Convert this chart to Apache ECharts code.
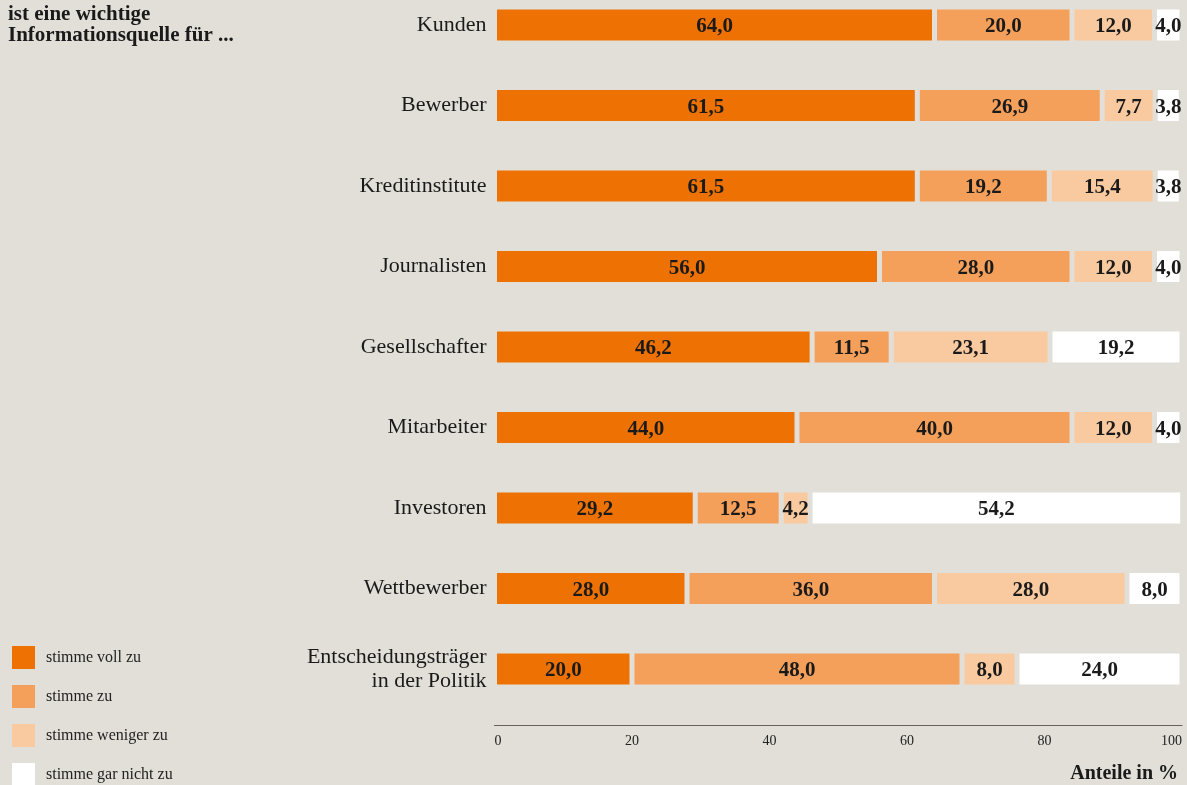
<!DOCTYPE html>
<html>
<head>
<meta charset="utf-8">
<script src="https://cdn.jsdelivr.net/npm/echarts@6/dist/echarts.min.js"></script>
<style>
    html, body { margin: 0; padding: 0; background: #e2dfd8; }
    #chart { width: 1187px; height: 785px; }
</style>
</head>
<body>
<div id="chart"></div>
<script>
    // Kategorien und Werte (Anteile in %)
    const categories = ['Kunden', 'Bewerber', 'Kreditinstitute', 'Journalisten', 'Gesellschafter',
        'Mitarbeiter', 'Investoren', 'Wettbewerber', 'Entscheidungsträger\nin der Politik'];
    const seriesNames = ['stimme voll zu', 'stimme zu', 'stimme weniger zu', 'stimme gar nicht zu'];
    const vollZu    = [64.0, 61.5, 61.5, 56.0, 46.2, 44.0, 29.2, 28.0, 20.0];
    const zu        = [20.0, 26.9, 19.2, 28.0, 11.5, 40.0, 12.5, 36.0, 48.0];
    const wenigerZu = [12.0,  7.7, 15.4, 12.0, 23.1, 12.0,  4.2, 28.0,  8.0];
    const garNicht  = [ 4.0,  3.8,  3.8,  4.0, 19.2,  4.0, 54.2,  8.0, 24.0];
    const xTicks = [0, 20, 40, 60, 80, 100];

    const colors = ['#ee7203', '#f5a05a', '#f9caa0', '#ffffff'];
    const bg = '#e2dfd8';
    const serif = '"Liberation Serif", "DejaVu Serif", serif';

    const values = [vollZu, zu, wenigerZu, garNicht];

    let myChart = echarts.init(document.getElementById('chart'));
    myChart.setOption({
        backgroundColor: bg,
        color: colors,
        textStyle: { fontFamily: serif },
        title: {
            text: 'ist eine wichtige\nInformationsquelle für ...',
            left: 3,
            top: -1,
            textStyle: { fontFamily: serif, fontSize: 21, fontWeight: 'bold', color: '#1a1a1a', lineHeight: 21 }
        },
        legend: {
            orient: 'vertical',
            left: 12,
            top: 646,
            height: 200,
            padding: 0,
            itemWidth: 23,
            itemHeight: 23,
            itemGap: 16,
            icon: 'rect',
            itemStyle: { borderWidth: 0 },
            textStyle: { fontFamily: serif, fontSize: 16, color: '#222', padding: [2, 0, 0, 6] },
            data: seriesNames
        },
        grid: {
            left: 494.5,
            right: 5,
            top: 25,
            bottom: 116
        },
        xAxis: {
            type: 'value',
            min: 0,
            max: 100,
            interval: 20,
            offset: 56,
            splitLine: { show: false },
            axisTick: { show: false },
            axisLine: { show: true, lineStyle: { color: '#6b6257', width: 1.2 } },
            axisLabel: {
                fontFamily: serif,
                fontSize: 14,
                color: '#222',
                margin: 9,
                alignMinLabel: 'left',
                alignMaxLabel: 'right',
                formatter: v => xTicks.includes(v) ? String(v) : ''
            }
        },
        yAxis: {
            type: 'category',
            inverse: true,
            boundaryGap: false,
            data: categories,
            axisLine: { show: false },
            axisTick: { show: false },
            splitLine: { show: false },
            axisLabel: {
                fontFamily: serif,
                fontSize: 22,
                color: '#1a1a1a',
                margin: 8,
                lineHeight: 24,
                align: 'right',
                padding: [4, 0, 0, 0]
            }
        },
        graphic: [{
            type: 'text',
            right: 9,
            top: 764,
            style: {
                text: 'Anteile in %',
                fontFamily: serif,
                fontSize: 20,
                fontWeight: 'bold',
                fill: '#1a1a1a'
            }
        }],
        series: seriesNames.map((name, i) => ({
            name: name,
            type: 'bar',
            stack: 'total',
            barWidth: 36,
            clip: false,
            data: values[i],
            itemStyle: { color: colors[i], borderColor: bg, borderWidth: 2.5 },
            label: {
                show: true,
                position: 'inside',
                offset: [0, 2],
                fontFamily: serif,
                fontSize: 21,
                fontWeight: 'bold',
                color: '#1a1a1a',
                formatter: p => p.value.toFixed(1).replace('.', ',')
            }
        }))
    });
</script>
</body>
</html>
